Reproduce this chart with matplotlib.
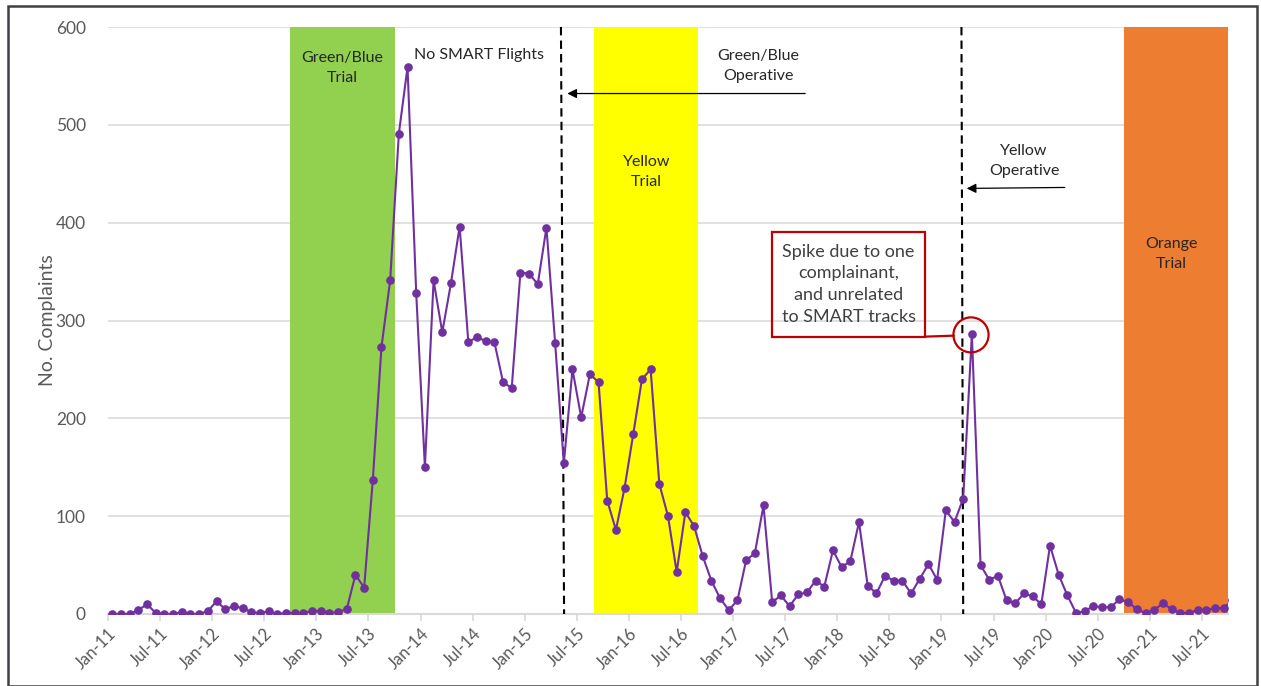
import matplotlib
matplotlib.use("Agg")
import matplotlib.pyplot as plt
from matplotlib.patches import Rectangle, Ellipse
import numpy as np

plt.rcParams['font.family'] = ['Lato', 'DejaVu Sans']

# monthly complaints, Jan-11 onwards
complaints = [0, 0, 0, 4, 10, 1, 0, 0, 2, 0, 0, 3,
              13, 5, 8, 6, 2, 1, 3, 0, 1, 1, 1, 3,
              3, 1, 2, 5, 40, 27, 137, 273, 341, 491, 559, 328,
              150, 341, 288, 338, 396, 278, 283, 279, 278, 237, 231, 349,
              348, 337, 395, 277, 154, 250, 201, 245, 237, 116, 86, 129,
              184, 240, 250, 133, 100, 43, 104, 90, 59, 34, 16, 4,
              14, 55, 62, 111, 12, 19, 8, 20, 22, 34, 28, 65,
              48, 54, 94, 29, 21, 39, 34, 34, 21, 36, 51, 35,
              106, 94, 118, 286, 50, 35, 39, 14, 11, 21, 18, 10,
              70, 40, 19, 1, 3, 8, 7, 7, 15, 12, 5, 1,
              4, 11, 5, 1, 1, 4, 4, 6, 6, 14]

tick_labels = ['Jan-11', 'Jul-11', 'Jan-12', 'Jul-12', 'Jan-13', 'Jul-13',
               'Jan-14', 'Jul-14', 'Jan-15', 'Jul-15', 'Jan-16', 'Jul-16',
               'Jan-17', 'Jul-17', 'Jan-18', 'Jul-18', 'Jan-19', 'Jul-19',
               'Jan-20', 'Jul-20', 'Jan-21', 'Jul-21']

# trial periods as month index (0 = Jan-11)
green_trial = (21, 33)
yellow_trial = (56, 68)
orange_trial = (117, 129)
green_operative = 52.35
yellow_operative = 98.4

fig = plt.figure(figsize=(12.61, 6.86), dpi=100)
ax = fig.add_axes([108/1261, 72/686, 1120/1261, 587/686])

x = np.arange(len(complaints)) + 0.5
n_months = 129

ax.axvspan(*green_trial, color='#92D050', zorder=1, lw=0)
ax.axvspan(*yellow_trial, color='#FFFF00', zorder=1, lw=0)
ax.axvspan(*orange_trial, color='#ED7D31', zorder=1, lw=0)

ax.plot(x, complaints, color='#7030A0', lw=1.5, marker='o', ms=5.2, zorder=4)

ax.plot([green_operative - 0.18, green_operative + 0.18], [600, 0], color='black',
        ls=(0, (4, 2.5)), lw=1.5, zorder=3)
ax.plot([yellow_operative - 0.1, yellow_operative + 0.1], [600, 0], color='black',
        ls=(0, (4, 2.5)), lw=1.5, zorder=3)

ax.set_xlim(0, n_months)
ax.set_ylim(0, 600)
ax.set_yticks(range(0, 601, 100))
ax.set_xticks(range(0, 127, 6))
ax.set_xticklabels(tick_labels, rotation=45, ha='right', rotation_mode='anchor')
ax.grid(axis='y', color='#D9D9D9', lw=1.1, zorder=0)
ax.set_axisbelow(True)
for s in ['top', 'right', 'left']:
    ax.spines[s].set_visible(False)
ax.spines['bottom'].set_color('#D9D9D9')
ax.spines['bottom'].set_linewidth(1.5)
ax.tick_params(axis='x', colors='#D9D9D9', length=5, width=1.2, pad=3,
               labelcolor='#595959', labelsize=12)
ax.tick_params(axis='y', length=0, labelcolor='#595959', labelsize=12.5, pad=16)
ax.set_ylabel('No. Complaints', color='#595959', fontsize=14, labelpad=0)

txt = dict(color='#262626', fontsize=11.5, ha='center', va='center',
           linespacing=1.55, zorder=5)
ax.text(27, 558, 'Green/Blue\nTrial', **txt)
ax.text(35.2, 571, 'No SMART Flights', color='#262626', fontsize=11.5,
        ha='left', va='center', zorder=5)
ax.text(74.9, 560, 'Green/Blue\nOperative', **txt)
ax.text(62, 452, 'Yellow\nTrial', **txt)
ax.text(105.5, 463, 'Yellow\nOperative', **txt)
ax.text(122.5, 368, 'Orange\nTrial', **txt)

arrow = dict(arrowstyle='-|>', color='black', lw=0.9, mutation_scale=14,
             shrinkA=0, shrinkB=0)
ax.annotate('', xy=(52.9, 532), xytext=(80.3, 532), arrowprops=arrow, zorder=5)
ax.annotate('', xy=(98.9, 435), xytext=(110.2, 436), arrowprops=arrow, zorder=5)

# spike callout
ax.add_patch(Rectangle((76.5, 283.2), 17.6, 107.4, fill=False, ec='#C00000',
                       lw=1.6, zorder=6))
ax.text(85.3, 337, 'Spike due to one\ncomplainant,\nand unrelated\nto SMART tracks',
        color='#404040', fontsize=13, ha='center', va='center', linespacing=1.45,
        zorder=6)
ax.plot([94.1, 97.4], [283.5, 284.5], color='#C00000', lw=1.6, zorder=6)
ax.add_patch(Ellipse((99.4, 285.3), 4.05, 35.8, fill=False, ec='#C00000',
                     lw=1.6, zorder=6))

# outer frame
fig.patches.append(Rectangle((8/1261, 0), 1249/1261, 680/686, fill=False,
                             ec='#3F3F46', lw=1.8, transform=fig.transFigure,
                             figure=fig))

fig.savefig('out.png', dpi=100)
